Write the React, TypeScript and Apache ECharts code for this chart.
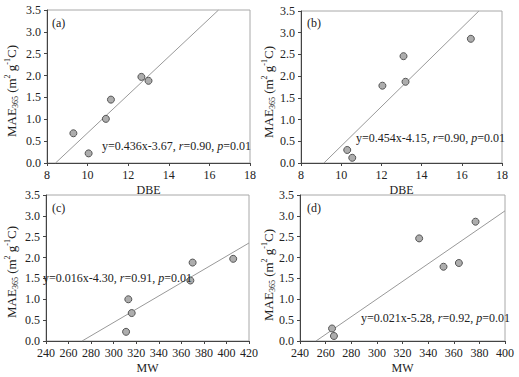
import React, { useEffect, useRef } from "react";
import * as echarts from "echarts";

// ---- data ----
const dbeA = [9.3, 10.05, 10.9, 11.15, 12.65, 13.0];
const maeA = [0.68, 0.22, 1.01, 1.45, 1.97, 1.88];
const dbeB = [10.3, 10.55, 12.05, 13.1, 13.2, 16.45];
const maeB = [0.3, 0.12, 1.78, 2.46, 1.87, 2.86];
const mwC = [311, 313, 316, 368, 370, 406];
const maeC = [0.22, 1.0, 0.67, 1.45, 1.88, 1.97];
const mwD = [265, 266.5, 333, 352, 364, 377];
const maeD = [0.3, 0.12, 2.46, 1.78, 1.87, 2.86];

const fitAx = [8.42, 16.45];
const fitAy = [0, 3.5];
const fitBx = [9.14, 16.85];
const fitBy = [0, 3.5];
const fitCx = [272, 420];
const fitCy = [0, 2.35];
const fitDx = [252.5, 400];
const fitDy = [0, 3.12];

const panelLabels = ["(a)", "(b)", "(c)", "(d)"];
const equations = [
  ["y=0.436x-3.67, ", "0.90", "0.01"],
  ["y=0.454x-4.15, ", "0.90", "0.01"],
  ["y=0.016x-4.30, ", "0.91", "0.01"],
  ["y=0.021x-5.28, ", "0.92", "0.01"],
];
const xNames = ["DBE", "DBE", "MW", "MW"];
const xRanges = [
  [8, 18, 2],
  [8, 18, 2],
  [240, 420, 20],
  [240, 400, 20],
];
const yRange = [0, 3.5, 0.5];

const FONT = '"Liberation Serif", "Times New Roman", serif';
const TXT = "#222";

const zip = (xs: number[], ys: number[]) => xs.map((x, i) => [x, ys[i]]);

export default function App() {
  const ref = useRef<HTMLDivElement>(null);
  useEffect(() => {
    if (!ref.current) return;
    const chart = echarts.init(ref.current, null, { renderer: "svg" });
    const grids = [
      { left: 47, top: 10, width: 203, height: 153 },
      { left: 301, top: 11, width: 201, height: 152 },
      { left: 46, top: 195, width: 203, height: 146 },
      { left: 300, top: 195, width: 205, height: 146 },
    ];
    const pts = [zip(dbeA, maeA), zip(dbeB, maeB), zip(mwC, maeC), zip(mwD, maeD)];
    const fits = [zip(fitAx, fitAy), zip(fitBx, fitBy), zip(fitCx, fitCy), zip(fitDx, fitDy)];

    const axisLine = { show: true, lineStyle: { color: "#444", width: 1 } };
    const axisTick = { show: true, inside: false, length: 3, lineStyle: { color: "#444" } };

    const series: any[] = [];
    pts.forEach((p, i) => {
      series.push({
        type: "line",
        xAxisIndex: i,
        yAxisIndex: i,
        data: fits[i],
        symbol: "none",
        lineStyle: { color: "#999", width: 1 },
        z: 2,
      });
      series.push({
        type: "scatter",
        xAxisIndex: i,
        yAxisIndex: i,
        data: p,
        symbolSize: 7,
        itemStyle: { color: "#adadad", borderColor: "#555", borderWidth: 1, opacity: 1 },
        z: 3,
      });
    });

    const eqPos = [
      [102, 146],
      [356, 138],
      [43, 278],
      [361, 318],
    ];
    const labPos = [
      [52, 23],
      [307, 23],
      [52, 208],
      [307, 208],
    ];
    const yTitlePos = [
      [11, 91],
      [268, 92],
      [11, 272],
      [268, 275],
    ];

    const graphic: any[] = [];
    for (let i = 0; i < 4; i++) {
      graphic.push({
        type: "text",
        x: labPos[i][0],
        y: labPos[i][1],
        style: {
          text: panelLabels[i],
          font: `12px ${FONT}`,
          fill: TXT,
          verticalAlign: "middle",
        },
        z: 10,
      });
      const eq = equations[i];
      graphic.push({
        type: "text",
        x: eqPos[i][0],
        y: eqPos[i][1],
        style: {
          text: `{n|${eq[0]}}{i|r}{n|=${eq[1]}, }{i|p}{n|=${eq[2]}}`,
          rich: {
            n: { fontSize: 12, fontFamily: FONT, fill: TXT },
            i: { fontSize: 12, fontFamily: FONT, fontStyle: "italic", fill: TXT },
          },
          verticalAlign: "middle",
          fill: TXT,
        },
        z: 10,
      });
      graphic.push({
        type: "text",
        x: yTitlePos[i][0],
        y: yTitlePos[i][1],
        rotation: Math.PI / 2,
        style: {
          text: "{m|MAE}{s|365}{m| (m}{p|2}{m| g}{p|-1}{m|C)}",
          rich: {
            m: { fontSize: 13, fontFamily: FONT, lineHeight: 16, fill: TXT },
            s: { fontSize: 8, fontFamily: FONT, lineHeight: 8, verticalAlign: "bottom", fill: TXT },
            p: { fontSize: 8, fontFamily: FONT, lineHeight: 8, verticalAlign: "top", fill: TXT },
          },
          align: "center",
          verticalAlign: "middle",
        },
        z: 10,
      });
    }

    chart.setOption({
      animation: false,
      backgroundColor: "#fff",
      grid: grids.map((g) => ({ ...g, show: true, borderColor: "#a8a8a8", borderWidth: 1, backgroundColor: "transparent" })),
      xAxis: xRanges.map((r, i) => ({
        type: "value",
        gridIndex: i,
        min: r[0],
        max: r[1],
        interval: r[2],
        name: xNames[i],
        nameLocation: "middle",
        nameGap: 21,
        nameTextStyle: { fontFamily: FONT, fontSize: 12, color: TXT },
        axisLine,
        axisTick,
        splitLine: { show: false },
        axisLabel: { fontFamily: FONT, fontSize: 12, color: TXT, margin: 6 },
      })),
      yAxis: [0, 1, 2, 3].map((i) => ({
        type: "value",
        gridIndex: i,
        min: yRange[0],
        max: yRange[1],
        interval: yRange[2],
        axisLine,
        axisTick,
        splitLine: { show: false },
        axisLabel: {
          fontFamily: FONT,
          fontSize: 12,
          color: TXT,
          margin: 6,
          formatter: (v: number) => v.toFixed(1),
        },
      })),
      series,
      graphic,
    });
    return () => chart.dispose();
  }, []);
  return (
    <div
      ref={ref}
      style={{ position: "fixed", left: 0, top: 0, width: 519, height: 377, background: "#fff" }}
    />
  );
}
